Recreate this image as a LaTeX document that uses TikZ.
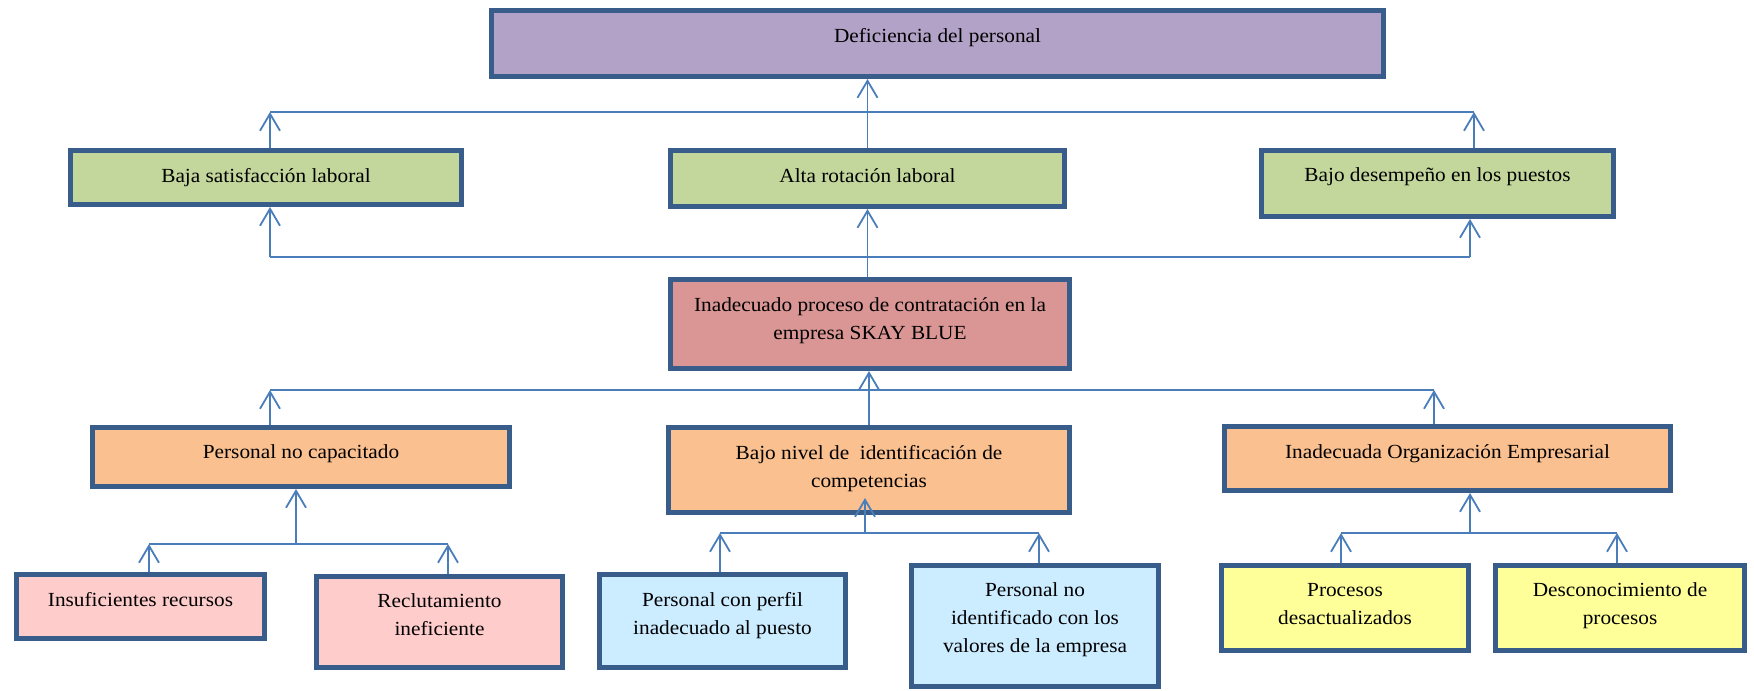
\documentclass[tikz,border=0pt]{standalone}
\usepackage{fontspec}
\setmainfont{Liberation Serif}[FakeStretch=1.065]
\usetikzlibrary{arrows.meta,calc}

\definecolor{edgeblue}{RGB}{56,93,138}
\definecolor{wireblue}{RGB}{74,126,187}
\definecolor{fPurple}{RGB}{179,162,199}
\definecolor{fGreen}{RGB}{195,214,155}
\definecolor{fRed}{RGB}{217,150,148}
\definecolor{fOrange}{RGB}{250,192,144}
\definecolor{fPink}{RGB}{255,204,204}
\definecolor{fSky}{RGB}{204,236,255}
\definecolor{fYellow}{RGB}{255,255,153}

\tikzset{
  box/.style={draw=edgeblue, line width=2.5pt, rectangle, inner sep=0pt},
  lbl/.style={anchor=north, align=center, inner sep=0pt,
              font=\fontsize{10}{14}\selectfont},
  wire/.style={draw=wireblue, line width=0.9pt},
  arr/.style={wire, -{Straight Barb[length=8.5pt,width=10pt]}}
}

% box with its caption: name, fill, left, top, right, bottom, text
\newcommand\drawpanel[7]{%
  \node[box, fill=#2,
        minimum width={(#5-#3)*0.5pt-2.5pt},
        minimum height={(#6-#4)*0.5pt-2.5pt}] (#1) at ({(#3+#5)/2},{(#4+#6)/2}) {};
  \node[lbl] (#1-t) at ($(#1.north)+(0,19.7)$) {#7};
}

\begin{document}
\begin{tikzpicture}[x=0.5pt,y=-0.5pt]
\useasboundingbox (0,0) rectangle (1754,690);

% effects
\drawpanel{def}{fPurple}{489}{8}{1386}{79}{Deficiencia del personal}
\drawpanel{baja}{fGreen}{68}{148}{464}{207}{Baja satisfacción laboral}
\drawpanel{alta}{fGreen}{668}{148}{1067}{209}{Alta rotación laboral}
\drawpanel{desemp}{fGreen}{1259}{148}{1616}{219}{Bajo desempeño en los puestos}

% central problem
\drawpanel{red}{fRed}{668}{277}{1072}{371}{Inadecuado proceso de contratación en la\\empresa SKAY BLUE}

% causes
\drawpanel{pnc}{fOrange}{90}{425}{512}{489}{Personal no capacitado}
\drawpanel{bajo}{fOrange}{666}{425}{1072}{515}{Bajo nivel de\ \ identificación de\\competencias}
\drawpanel{org}{fOrange}{1222}{424}{1673}{493}{Inadecuada Organización Empresarial}

% sub-causes
\drawpanel{insuf}{fPink}{14}{572}{267}{641}{Insuficientes recursos}
\drawpanel{recl}{fPink}{314}{574}{565}{670}{Reclutamiento\\ineficiente}
\drawpanel{perfil}{fSky}{597}{572}{848}{670}{Personal con perfil\\inadecuado al puesto}
\drawpanel{noid}{fSky}{909}{563}{1161}{689}{Personal no\\identificado con los\\valores de la empresa}
\drawpanel{proc}{fYellow}{1219}{563}{1471}{653}{Procesos\\desactualizados}
\drawpanel{desc}{fYellow}{1493}{563}{1747}{653}{Desconocimiento de\\procesos}

% effects -> main effect
\coordinate (b1l) at (270,112);
\coordinate (b1r) at (1474,112);
\draw[wire] (b1l) -- (b1r);
\draw[arr] (b1l |- baja.north) -- (b1l);
\draw[arr] (b1r |- desemp.north) -- (b1r);
\draw[arr] (alta.north) -- (alta.north |- def.south);

% central problem -> effects
\coordinate (b2l) at (270,257);
\coordinate (b2r) at (1470,257);
\draw[wire] (b2l) -- (b2r);
\draw[arr] (b2l) -- (b2l |- baja.south);
\draw[arr] (b2r) -- (b2r |- desemp.south);
\draw[arr] (alta.south |- red.north) -- (alta.south);

% causes -> central problem
\coordinate (b3l) at (270,390);
\coordinate (b3r) at (1434,390);
\draw[wire] (b3l) -- (b3r);
\draw[arr] (b3l |- pnc.north) -- (b3l);
\draw[arr] (b3r |- org.north) -- (b3r);
\draw[arr] (bajo.north) -- (bajo.north |- red.south);

% sub-causes -> causes
\coordinate (c1) at (296,544);
\coordinate (c1l) at (149,544);
\coordinate (c1r) at (448,544);
\draw[wire] (c1l) -- (c1r);
\draw[arr] (c1) -- (c1 |- pnc.south);
\draw[arr] (c1l |- insuf.north) -- (c1l);
\draw[arr] (c1r |- recl.north) -- (c1r);

\coordinate (c2) at (865,533);
\coordinate (c2l) at (720,533);
\coordinate (c2r) at (1039,533);
\draw[wire] (c2l) -- (c2r);
\draw[arr] (c2) -- ($(c2 |- bajo.south)+(0,-17)$);
\draw[arr] (c2l |- perfil.north) -- (c2l);
\draw[arr] (c2r |- noid.north) -- (c2r);

\coordinate (c3) at (1470,533);
\coordinate (c3l) at (1341,533);
\coordinate (c3r) at (1617,533);
\draw[wire] (c3l) -- (c3r);
\draw[arr] (c3) -- (c3 |- org.south);
\draw[arr] (c3l |- proc.north) -- (c3l);
\draw[arr] (c3r |- desc.north) -- (c3r);
\end{tikzpicture}
\end{document}
